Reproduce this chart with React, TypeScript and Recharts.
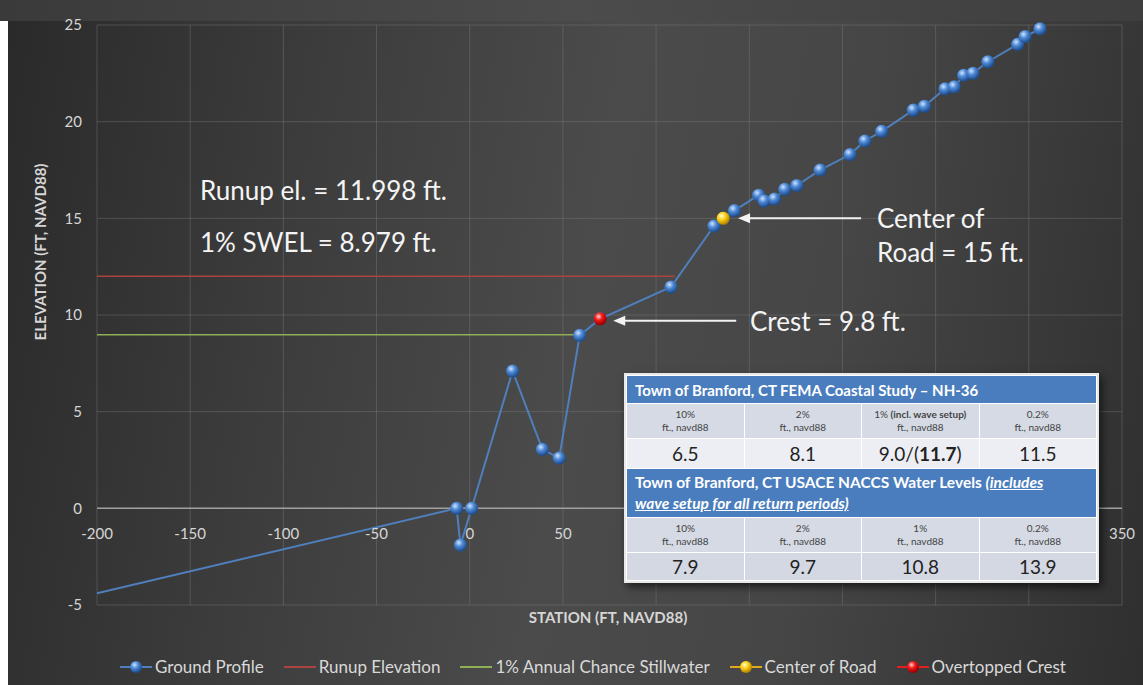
import { LineChart, Line, XAxis, YAxis, CartesianGrid, ReferenceLine } from "recharts";

const xTicks = [-200, -150, -100, -50, 0, 50, 100, 150, 200, 250, 300, 350];
// these labels sit under the inset table in the original
const coveredTicks = [100, 150, 200, 250, 300];
const yTicks = [-5, 0, 5, 10, 15, 20, 25];

// ground profile survey (station ft, elevation ft)
const groundStation = [-200, -7, -5, 1, 23, 39, 48, 59, 70, 108, 131, 136, 142, 155, 158, 163.5, 169, 175.5, 188, 204, 212, 221, 238, 244, 255, 260, 265, 270, 278, 294, 298, 306];
const groundElevation = [-4.4, 0, -1.9, 0, 7.1, 3.05, 2.6, 8.95, 9.8, 11.45, 14.6, 15.0, 15.4, 16.2, 15.9, 16.0, 16.5, 16.7, 17.5, 18.3, 19.0, 19.5, 20.6, 20.8, 21.7, 21.8, 22.4, 22.5, 23.1, 24.0, 24.4, 24.8];

const runupStation = [-200, 110];
const runupElevation = 11.998;
const swelStation = [-200, 58.5];
const swelElevation = 8.979;
const roadStation = [136];
const roadElevation = [15];
const crestStation = [70];
const crestElevation = [9.8];

// arrows: [from station, to station, elevation]
const crestArrow = [143, 77, 9.7];
const roadArrow = [210, 144, 15.0];

const tableLevels = ["10%", "2%", "1%", "0.2%"];
const femaValues = ["6.5", "8.1", "9.0/(11.7)", "11.5"];
const naccsValues = ["7.9", "9.7", "10.8", "13.9"];

const legendItems = [
  { name: "Ground Profile", color: "#4f7fbd", ball: "ballBlue" },
  { name: "Runup Elevation", color: "#a9443f", ball: null },
  { name: "1% Annual Chance Stillwater", color: "#8fae55", ball: null },
  { name: "Center of Road", color: "#e0a81c", ball: "ballYellow" },
  { name: "Overtopped Crest", color: "#e32020", ball: "ballRed" },
];

const W = 1143;
const H = 685;
const TOP = 25;
const PLOT_H = 580;
const Y_MIN = -5;
const Y_MAX = 25;
const ZERO_Y = TOP + (PLOT_H * Y_MAX) / (Y_MAX - Y_MIN);
const FONT = "Lato, 'Open Sans', sans-serif";

const groundData = groundStation.map((x, i) => ({ x, y: groundElevation[i] }));
const runupData = runupStation.map((x) => ({ x, y: runupElevation }));
const swelData = swelStation.map((x) => ({ x, y: swelElevation }));
const roadData = roadStation.map((x, i) => ({ x, y: roadElevation[i] }));
const crestData = crestStation.map((x, i) => ({ x, y: crestElevation[i] }));

const makeBall = (grad: string, skipFirst = false) => (props: any) => {
  const { cx, cy, index } = props;
  if (cx == null || cy == null || (skipFirst && index === 0)) return <g key={`d${index}`} />;
  return <circle key={`d${index}`} cx={cx} cy={cy} r={6.5} fill={`url(#${grad})`} />;
};

const XTick = (props: any) => {
  const { x, payload } = props;
  if (coveredTicks.includes(payload.value)) return <g />;
  return (
    <text x={x} y={ZERO_Y + 25} textAnchor="middle" dominantBaseline="central" fill="#d6d6d6" fontSize={15} fontFamily={FONT}>
      {payload.value}
    </text>
  );
};

const Arrow = (props: any) => {
  const { x1, y1, x2, y2 } = props;
  const head = Math.min(x1, x2);
  const tail = Math.max(x1, x2);
  const y = (y1 + y2) / 2;
  return (
    <g>
      <line x1={tail} y1={y} x2={head + 8} y2={y} stroke="#f2f2f2" strokeWidth={2} />
      <polygon points={`${head},${y} ${head + 12},${y - 5} ${head + 12},${y + 5}`} fill="#f2f2f2" />
    </g>
  );
};

const BallGrad = ({ id, light, mid, dark }: any) => (
  <radialGradient id={id} cx="38%" cy="32%" r="65%">
    <stop offset="0%" stopColor={light} />
    <stop offset="45%" stopColor={mid} />
    <stop offset="100%" stopColor={dark} />
  </radialGradient>
);

const cell: any = { border: "1px solid #ffffff", textAlign: "center", padding: 0 };

function LevelsTable() {
  const sub = (i: number, fema: boolean) => (
    <td key={i} style={{ ...cell, background: "#d5dae4", height: 34, fontSize: 10, color: "#444", lineHeight: "13px" }}>
      {fema && i === 2 ? (
        <span>1% <b>(incl. wave setup)</b></span>
      ) : (
        tableLevels[i]
      )}
      <br />
      ft., navd88
    </td>
  );
  return (
    <div style={{ position: "absolute", left: 624, top: 373, width: 471, border: "2px solid #e8e8e8", boxShadow: "3px 4px 8px rgba(0,0,0,0.6)", fontFamily: FONT, background: "#fff" }}>
      <table style={{ borderCollapse: "collapse", width: "100%", tableLayout: "fixed" }}>
        <tbody>
          <tr>
            <td colSpan={4} style={{ ...cell, textAlign: "left", background: "#4a7dbd", color: "#fff", fontWeight: 700, fontSize: 15, height: 27, paddingLeft: 8 }}>
              Town of Branford, CT FEMA Coastal Study – NH-36
            </td>
          </tr>
          <tr>{tableLevels.map((_, i) => sub(i, true))}</tr>
          <tr>
            {femaValues.map((v, i) => (
              <td key={i} style={{ ...cell, background: "#eceef3", height: 29, fontSize: 19, color: "#222" }}>
                {i === 2 ? (
                  <span>9.0/(<b>11.7</b>)</span>
                ) : (
                  v
                )}
              </td>
            ))}
          </tr>
          <tr>
            <td colSpan={4} style={{ ...cell, textAlign: "left", background: "#4a7dbd", color: "#fff", fontWeight: 700, fontSize: 15.5, height: 48, paddingLeft: 8, lineHeight: "21px" }}>
              Town of Branford, CT USACE NACCS Water Levels{" "}
              <span style={{ fontStyle: "italic", textDecoration: "underline" }}>(includes</span>
              <br />
              <span style={{ fontStyle: "italic", textDecoration: "underline" }}>wave setup for all return periods)</span>
            </td>
          </tr>
          <tr>{tableLevels.map((_, i) => sub(i, false))}</tr>
          <tr>
            {naccsValues.map((v, i) => (
              <td key={i} style={{ ...cell, background: "#d3d8e3", height: 27, fontSize: 19, color: "#222" }}>
                {v}
              </td>
            ))}
          </tr>
        </tbody>
      </table>
    </div>
  );
}

function Legend() {
  return (
    <div style={{ position: "absolute", left: 100, top: 656, width: 986, display: "flex", justifyContent: "center", gap: 20, fontFamily: FONT, fontSize: 17, color: "#d9d9d9" }}>
      {legendItems.map((it) => (
        <div key={it.name} style={{ display: "flex", alignItems: "center" }}>
          <svg width={32} height={20} style={{ marginRight: 3 }}>
            <line x1={0} y1={10} x2={32} y2={10} stroke={it.color} strokeWidth={2} />
            {it.ball && <circle cx={16} cy={10} r={6} fill={`url(#${it.ball})`} />}
          </svg>
          <span>{it.name}</span>
        </div>
      ))}
    </div>
  );
}

const note: any = { position: "absolute", color: "#f4f4f4", fontFamily: FONT, fontSize: 26, lineHeight: "30px", whiteSpace: "nowrap" };

export default function App() {
  return (
    <div style={{ position: "absolute", left: 0, top: 0, width: W, height: H, overflow: "hidden", background: "#444" }}>
      <div style={{ position: "absolute", left: 0, top: 0, width: W, height: 21, background: "linear-gradient(90deg, #3a3a3a, #4c4c4c 50%, #3e3e3e)" }} />
      <div style={{ position: "absolute", left: 8, top: 21, width: W - 8, height: H - 21, background: "linear-gradient(100deg, #2a2a2a 0%, #3c3c3c 25%, #4b4b4b 50%, #464646 70%, #2f2f2f 100%)" }} />
      <div style={{ position: "absolute", left: 0, top: 21, width: 8, height: H - 21, background: "#ffffff" }} />
      <div style={{ position: "absolute", left: 0, top: 0 }}>
        <LineChart width={W} height={H} margin={{ top: TOP, right: 21, bottom: 50, left: 37 }}>
          <defs>
            <BallGrad id="ballBlue" light="#cfe4ff" mid="#4f8ad6" dark="#1d4d8f" />
            <BallGrad id="ballYellow" light="#fffbd0" mid="#ffd21a" dark="#b68600" />
            <BallGrad id="ballRed" light="#ffd0d0" mid="#f01818" dark="#9a0000" />
          </defs>
          <CartesianGrid stroke="#808080" strokeOpacity={0.4} />
          <XAxis
            type="number"
            dataKey="x"
            domain={[-200, 350]}
            ticks={xTicks}
            axisLine={false}
            tickLine={false}
            height={30}
            tick={<XTick />}
            allowDataOverflow
          />
          <YAxis
            type="number"
            dataKey="y"
            domain={[Y_MIN, Y_MAX]}
            ticks={yTicks}
            width={60}
            axisLine={false}
            tickLine={false}
            tickSize={0}
            tickMargin={15}
            tick={{ fill: "#d6d6d6", fontSize: 15, fontFamily: FONT }}
          />
          <ReferenceLine y={0} stroke="#a0a0a0" strokeWidth={1.5} />
          <Line data={runupData} dataKey="y" stroke="#a9443f" strokeWidth={1.5} dot={false} isAnimationActive={false} />
          <Line data={swelData} dataKey="y" stroke="#8fae55" strokeWidth={1.5} dot={false} isAnimationActive={false} />
          <Line data={groundData} dataKey="y" stroke="#4f7fbd" strokeWidth={2} dot={makeBall("ballBlue", true)} isAnimationActive={false} />
          <Line data={roadData} dataKey="y" stroke="#e0a81c" dot={makeBall("ballYellow")} isAnimationActive={false} />
          <Line data={crestData} dataKey="y" stroke="#e32020" dot={makeBall("ballRed")} isAnimationActive={false} />
          <ReferenceLine segment={[{ x: crestArrow[0], y: crestArrow[2] }, { x: crestArrow[1], y: crestArrow[2] }]} shape={<Arrow />} />
          <ReferenceLine segment={[{ x: roadArrow[0], y: roadArrow[2] }, { x: roadArrow[1], y: roadArrow[2] }]} shape={<Arrow />} />
        </LineChart>
      </div>
      <div style={{ ...note, left: 200, top: 175 }}>Runup el. = 11.998 ft.</div>
      <div style={{ ...note, left: 200, top: 227 }}>1% SWEL = 8.979 ft.</div>
      <div style={{ ...note, left: 750, top: 306 }}>Crest = 9.8 ft.</div>
      <div style={{ ...note, left: 877, top: 201, lineHeight: "34px" }}>
        Center of
        <br />
        Road = 15 ft.
      </div>
      <div style={{ position: "absolute", left: 40, top: 252, transform: "translate(-50%, -50%) rotate(-90deg)", color: "#d6d6d6", fontFamily: FONT, fontWeight: 700, fontSize: 15, whiteSpace: "nowrap" }}>
        ELEVATION (FT, NAVD88)
      </div>
      <div style={{ position: "absolute", left: 608, top: 617, transform: "translate(-50%, -50%)", color: "#d6d6d6", fontFamily: FONT, fontWeight: 700, fontSize: 15, whiteSpace: "nowrap" }}>
        STATION (FT, NAVD88)
      </div>
      <LevelsTable />
      <Legend />
    </div>
  );
}
